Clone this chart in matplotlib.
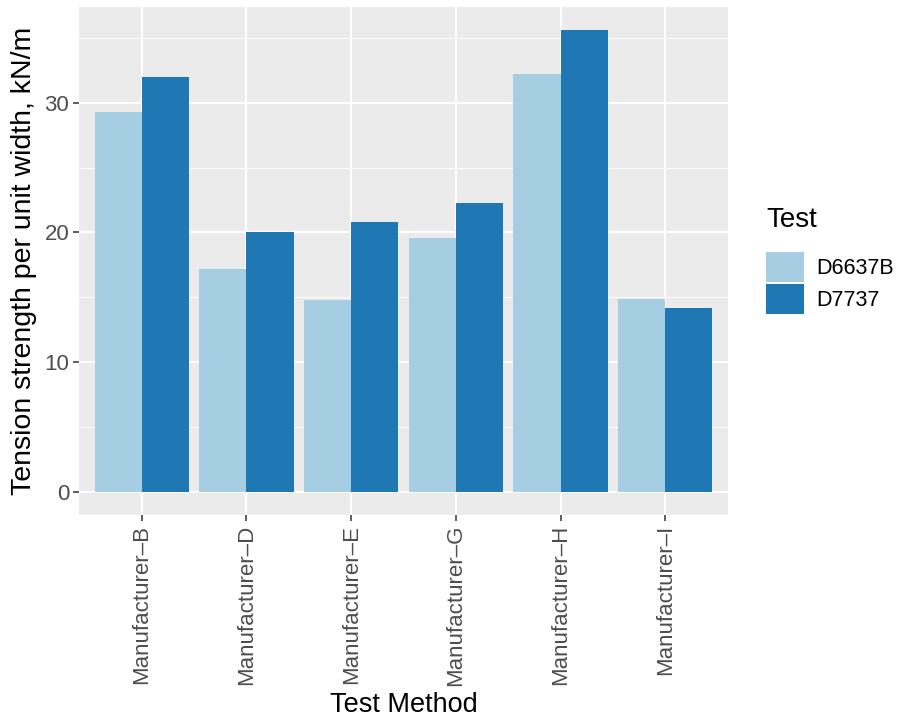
import numpy as np
import matplotlib
matplotlib.use("Agg")
import matplotlib.pyplot as plt
from matplotlib.patches import Patch

plt.rcParams['font.family'] = ['Liberation Sans', 'DejaVu Sans']

# data
manufacturers = ["Manufacturer\u2013B", "Manufacturer\u2013D", "Manufacturer\u2013E",
                 "Manufacturer\u2013G", "Manufacturer\u2013H", "Manufacturer\u2013I"]
tests = ["D6637B", "D7737"]
d6637b = [29.3, 17.2, 14.8, 19.6, 32.2, 14.9]
d7737 = [32.0, 20.0, 20.8, 22.3, 35.6, 14.2]
colors = ["#A6CEE3", "#1F78B4"]

fig = plt.figure(figsize=(9.05, 7.23), dpi=100)
ax = fig.add_axes([0.0873, 0.2877, 0.7171, 0.7026])
ax.set_facecolor("#EBEBEB")

x = np.arange(1, len(manufacturers) + 1)
w = 0.45
ax.bar(x - w / 2, d6637b, width=w, color=colors[0], zorder=3)
ax.bar(x + w / 2, d7737, width=w, color=colors[1], zorder=3)

top = max(max(d6637b), max(d7737))
ax.set_ylim(-0.05 * top, top * 1.05)
ax.set_xlim(0.4, 6.6)

ax.set_yticks([0, 10, 20, 30])
ax.set_yticks([5, 15, 25, 35], minor=True)
ax.set_xticks(x)
ax.set_xticklabels(manufacturers, rotation=90)

ax.grid(which="major", color="white", linewidth=1.5, zorder=0)
ax.grid(which="minor", axis="y", color="white", linewidth=0.7, zorder=0)
ax.set_axisbelow(True)
for s in ax.spines.values():
    s.set_visible(False)

ax.tick_params(which="major", length=4, width=1.1, color="#333333",
               labelcolor="#4D4D4D", labelsize=16, pad=3)
ax.tick_params(which="minor", length=0)

ax.set_xlabel("Test Method", fontsize=19.5, labelpad=4)
ax.set_ylabel("Tension strength per unit width, kN/m", fontsize=20.5, labelpad=5)

handles = [Patch(facecolor=colors[i], edgecolor="none") for i in range(2)]
leg = fig.legend(handles, tests, title="Test", loc="center left",
                 bbox_to_anchor=(0.835, 0.64), frameon=False, borderpad=0,
                 fontsize=15.5, title_fontsize=20, handlelength=1.75,
                 handleheight=1.75, handletextpad=0.55, labelspacing=0.1)
leg._legend_box.align = "left"
leg._legend_box.sep = 14

fig.savefig("out.png", dpi=100)
